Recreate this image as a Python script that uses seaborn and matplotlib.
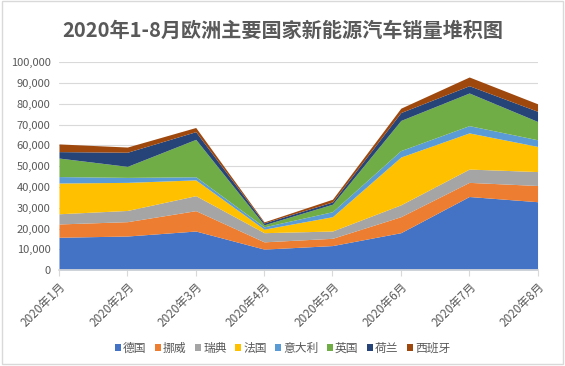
import matplotlib
matplotlib.use("Agg")
import matplotlib.pyplot as plt
import matplotlib.ticker as mticker
from matplotlib.patches import Rectangle
import seaborn as sns

months = ["2020年1月", "2020年2月", "2020年3月", "2020年4月",
          "2020年5月", "2020年6月", "2020年7月", "2020年8月"]
countries = ["德国", "挪威", "瑞典", "法国", "意大利", "英国", "荷兰", "西班牙"]

germany = [15800, 16400, 18800, 10100, 11800, 18000, 35400, 32900]
norway = [6400, 6900, 9800, 3500, 3500, 7700, 6800, 7800]
sweden = [4900, 5400, 7200, 4400, 3500, 5700, 6400, 6700]
france = [14800, 13500, 7600, 1700, 6900, 23000, 17400, 12100]
italy = [3100, 2400, 1500, 1100, 2400, 3100, 3500, 3200]
uk = [8900, 5300, 18000, 1000, 3600, 14500, 15700, 8800]
netherlands = [3100, 6800, 3700, 900, 1100, 3800, 3500, 4900]
spain = [3700, 2500, 2000, 500, 1300, 2100, 4200, 3600]

colors = ["#4472C4", "#ED7D31", "#A5A5A5", "#FFC000",
          "#5B9BD5", "#70AD47", "#264478", "#9E480E"]

sns.set_theme(style="white")
plt.rcParams['font.family'] = ['Noto Sans CJK SC', 'DejaVu Sans']

fig = plt.figure(figsize=(5.65, 3.66), dpi=100)
ax = fig.add_axes([0.1044, 0.262, 0.847, 0.568])

x = list(range(len(months)))
series = [germany, norway, sweden, france, italy, uk, netherlands, spain]
ax.stackplot(x, *series, colors=colors, labels=countries, linewidth=0)

ax.set_xlim(0, len(months) - 1)
ax.set_ylim(0, 100000)
ax.yaxis.set_major_locator(mticker.MultipleLocator(10000))
ax.yaxis.set_major_formatter(mticker.FuncFormatter(lambda v, p: f"{int(v):,}"))
ax.grid(axis="y", color="#d9d9d9", linewidth=0.8)
ax.set_axisbelow(True)

for s in ["top", "right", "left"]:
    ax.spines[s].set_visible(False)
ax.spines["bottom"].set_color("#d9d9d9")

ax.set_xticks(x)
ax.set_xticklabels(months, rotation=45, ha="right", rotation_mode="anchor")
ax.tick_params(axis="x", colors="#595959", labelsize=8.5, length=4, width=0.8,
               bottom=True, color="#d9d9d9")
ax.tick_params(axis="y", colors="#595959", labelsize=8, length=0, pad=6)

fig.text(0.5, 0.917, "2020年1-8月欧洲主要国家新能源汽车销量堆积图",
         ha="center", va="center", fontsize=14.5, fontweight="bold", color="#595959")

handles, labels = ax.get_legend_handles_labels()
fig.legend(handles, labels, loc="center", bbox_to_anchor=(0.5, 0.048), ncol=8,
           frameon=False, fontsize=8.5, handlelength=0.5, handleheight=0.5,
           handletextpad=0.2, columnspacing=0.7, labelcolor="#595959")

fig.patches.append(Rectangle((0.003, 0.006), 0.994, 0.99, transform=fig.transFigure,
                             fill=False, edgecolor="#d9d9d9", linewidth=1))

fig.savefig("out.png", dpi=100)
